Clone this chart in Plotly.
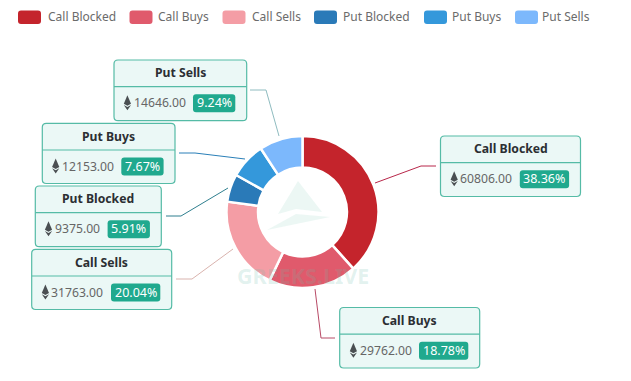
import plotly.graph_objects as go

W, H = 631, 381
names = ["Call Blocked", "Call Buys", "Call Sells", "Put Blocked", "Put Buys", "Put Sells"]
values = [60806, 29762, 31763, 9375, 12153, 14646]
value_labels = ["60806.00", "29762.00", "31763.00", "9375.00", "12153.00", "14646.00"]
pct_labels = ["38.36%", "18.78%", "20.04%", "5.91%", "7.67%", "9.24%"]
colors = ["#c4242c", "#e05a6c", "#f49da5", "#2a7ab8", "#3498db", "#7cb8fc"]
leader_colors = ["#b8274a", "#b84a66", "#d9b3ae", "#2f7f8f", "#2a7fb8", "#8fbcc0"]

# layout in pixels
cx, cy, R = 302.5, 212, 76
boxes = [(440.5, 136, 580.5, 196.5), (339.7, 307.5, 479.7, 368), (31.7, 249.3, 171.7, 309.5),
         (35.3, 186, 161.3, 246.7), (42.3, 123.3, 175, 183.5), (114, 60, 246.7, 120.7)]
leaders = [[(375, 183), (421, 166), (436, 166)], [(315, 289), (321, 338), (335, 338)],
           [(233, 249), (192, 279), (176, 279)], [(228, 188), (181, 216), (166, 216)],
           [(245, 159), (195, 153), (179, 153)], [(279, 136), (266, 90), (250, 90)]]
legend_sw = [18, 129.5, 222.5, 314, 424, 515]
legend_tx = [45.5, 156, 249.5, 341, 449.5, 540]
LEG_Y = 17

px = lambda x: x / W
py = lambda y: 1 - y / H


def rrect(x0, y0, x1, y1, r):
    return (f"M{px(x0+r)},{py(y0)} L{px(x1-r)},{py(y0)} Q{px(x1)},{py(y0)} {px(x1)},{py(y0+r)} "
            f"L{px(x1)},{py(y1-r)} Q{px(x1)},{py(y1)} {px(x1-r)},{py(y1)} L{px(x0+r)},{py(y1)} "
            f"Q{px(x0)},{py(y1)} {px(x0)},{py(y1-r)} L{px(x0)},{py(y0+r)} Q{px(x0)},{py(y0)} {px(x0+r)},{py(y0)} Z")


def poly(pts):
    return "M" + " L".join(f"{px(x)},{py(y)}" for x, y in pts) + " Z"


fig = go.Figure(go.Pie(
    labels=names, values=values, hole=0.585, sort=False, direction="clockwise", rotation=0,
    marker=dict(colors=colors, line=dict(color="#ffffff", width=2.5)),
    textinfo="none", hoverinfo="label+value+percent", showlegend=False,
    domain=dict(x=[px(cx - R), px(cx + R)], y=[py(cy + R), py(cy - R)]),
))

shapes, ann = [], []
FONT = "Noto Sans, Open Sans, sans-serif"


def text(x, y, s, size, color, anchor="center", bold=False, opacity=1):
    ann.append(dict(x=px(x), y=py(y), xref="paper", yref="paper", text=f"<b>{s}</b>" if bold else s,
                    showarrow=False, xanchor=anchor, yanchor="middle", opacity=opacity,
                    font=dict(family=FONT, size=size, color=color)))


# watermark
WM = "rgba(110,190,170,0.13)"
shapes.append(dict(type="path", xref="paper", yref="paper", layer="above", line_width=0, fillcolor=WM,
                   path=poly([(298, 181), (322, 212), (296, 209), (278, 214)])))
shapes.append(dict(type="path", xref="paper", yref="paper", layer="above", line_width=0, fillcolor=WM,
                   path=poly([(267, 230), (296, 214), (330, 217)])))
text(303, 275, "GREEKS.LIVE", 21.5, "rgba(110,190,170,0.2)", bold=True)

for i, n in enumerate(names):
    x0, y0, x1, y1 = boxes[i]
    # legend
    shapes.append(dict(type="path", xref="paper", yref="paper", layer="above", line_width=0, fillcolor=colors[i],
                       path=rrect(legend_sw[i], LEG_Y - 6.5, legend_sw[i] + 23, LEG_Y + 7, 3)))
    text(legend_tx[i], LEG_Y - 0.5, n, 12, "#6b6b6b", anchor="left")
    # leader
    lx = [p[0] for p in leaders[i]]
    ly = [p[1] for p in leaders[i]]
    fig.add_trace(go.Scatter(x=[px(v) for v in lx], y=[py(v) for v in ly], mode="lines", xaxis="x", yaxis="y",
                             line=dict(color=leader_colors[i], width=1), hoverinfo="skip", showlegend=False))
    # box
    shapes.append(dict(type="path", xref="paper", yref="paper", layer="above", fillcolor="#ebf8f6",
                       line=dict(color="#55bba6", width=1.2), path=rrect(x0, y0, x1, y1, 4)))
    div = y0 + 26.7
    shapes.append(dict(type="line", xref="paper", yref="paper", layer="above", x0=px(x0), x1=px(x1), y0=py(div), y1=py(div),
                       line=dict(color="#55bba6", width=1.2)))
    text((x0 + x1) / 2, y0 + 12.7, n, 12.2, "#2b2f33", bold=True)
    # badge
    bw = 49.3 if len(pct_labels[i]) == 6 else 42.3
    bx1 = x1 - 11.4
    bx0 = bx1 - bw
    by = y0 + 43.3
    shapes.append(dict(type="path", xref="paper", yref="paper", layer="above", line_width=0, fillcolor="#20a98e",
                       path=rrect(bx0, by - 9, bx1, by + 9, 3)))
    text((bx0 + bx1) / 2, by - 0.5, pct_labels[i], 12.5, "#ffffff")
    # value
    text(bx0 - 5.5, by - 0.5, value_labels[i], 12.2, "#666666", anchor="right")
    # eth glyph
    ex = bx0 - 7.3 - 6.5 * len(value_labels[i]) - 6.3
    shapes.append(dict(type="path", xref="paper", yref="paper", layer="above", line_width=0, fillcolor="#4a4f52",
                       path=poly([(ex, by - 8), (ex + 3.6, by + 0.5), (ex, by + 2.5), (ex - 3.6, by + 0.5)])))
    shapes.append(dict(type="path", xref="paper", yref="paper", layer="above", line_width=0, fillcolor="#4a4f52",
                       path=poly([(ex - 3.6, by + 1.6), (ex, by + 3.6), (ex + 3.6, by + 1.6), (ex, by + 7)])))

fig.update_layout(
    width=W, height=H, margin=dict(l=0, r=0, t=0, b=0), paper_bgcolor="#ffffff", plot_bgcolor="rgba(0,0,0,0)",
    xaxis=dict(visible=False, range=[0, 1], domain=[0, 1], fixedrange=True),
    yaxis=dict(visible=False, range=[0, 1], domain=[0, 1], fixedrange=True),
    shapes=shapes, annotations=ann,
)
fig.write_html("out.html", config={"displayModeBar": False},
               post_script="document.body.style.margin='0';document.body.style.overflow='hidden';")
